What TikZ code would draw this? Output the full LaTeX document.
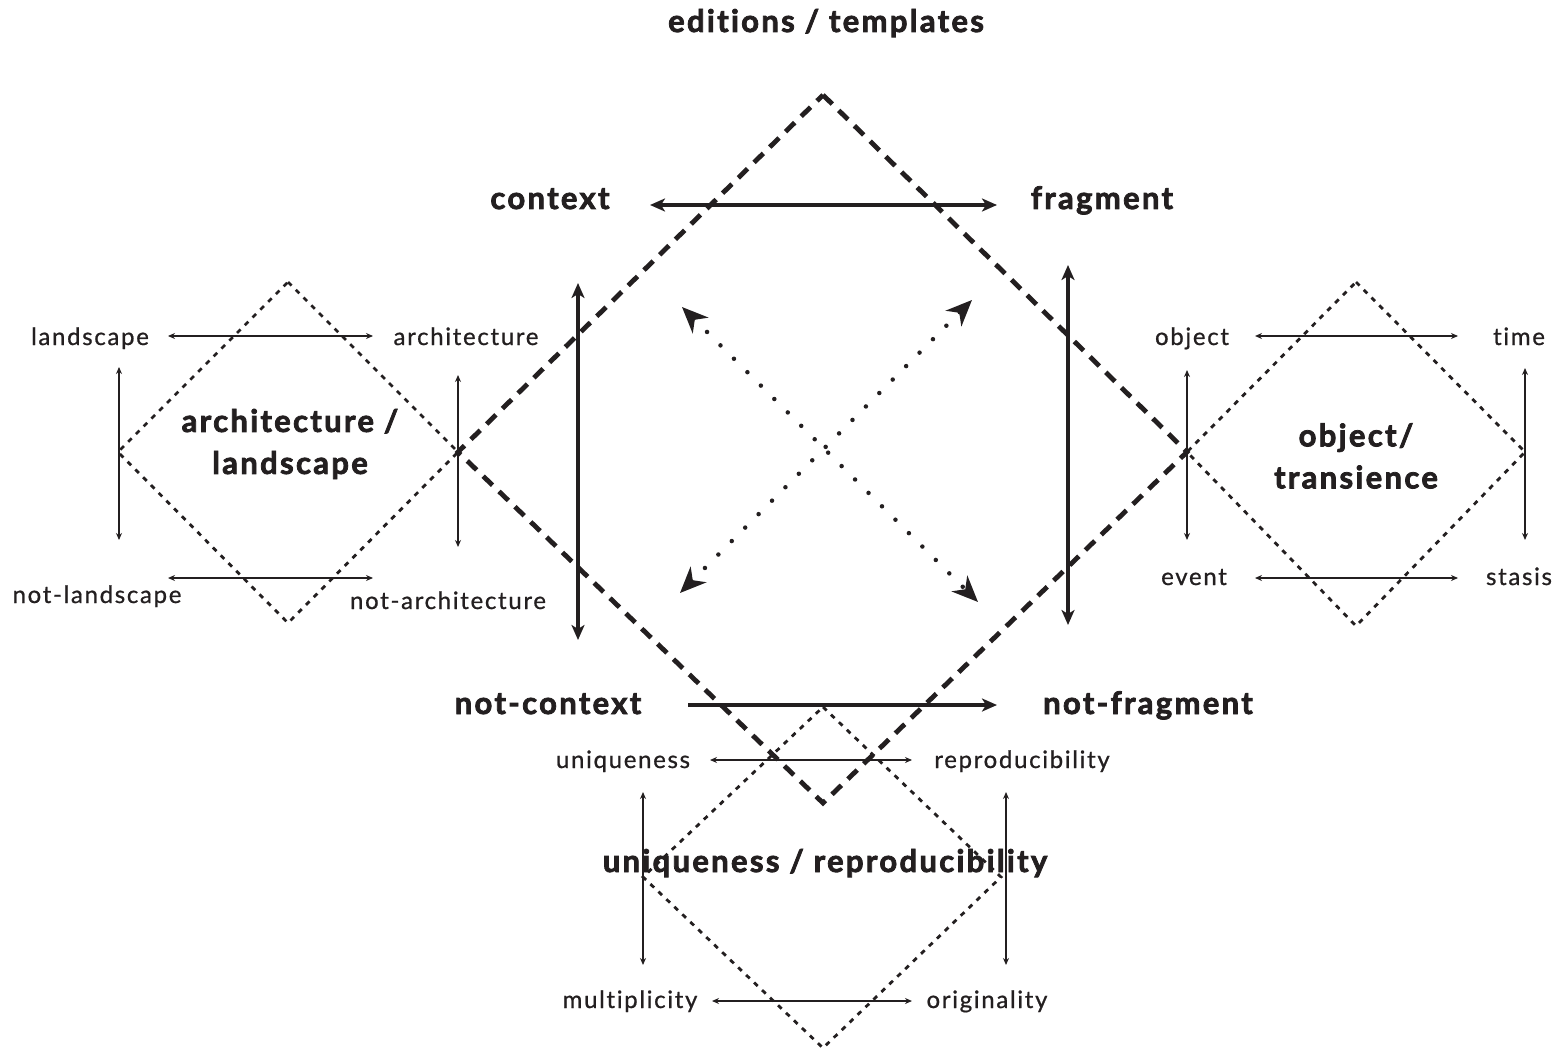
\documentclass[tikz,border=0pt]{standalone}
\usepackage{fontspec}
\setmainfont{Lato}
\newfontfamily\bigf{Lato}[LetterSpace=7.5, Ligatures={NoCommon}, BoldFeatures={FakeBold=2.5}]
\newfontfamily\smallf{Lato}[LetterSpace=7, Ligatures={NoCommon}, FakeBold=0.8]
\usetikzlibrary{arrows.meta}
\definecolor{ink}{RGB}{35,31,32}
\begin{document}
\begin{tikzpicture}[x=1pt,y=-1pt,
  big/.style={font=\bigf\bfseries\fontsize{31}{42}\selectfont, text=ink, inner sep=0pt},
  small/.style={font=\smallf\fontsize{24}{28}\selectfont, text=ink, anchor=base, inner sep=0pt},
  bigdiamond/.style={draw=ink, line width=4.8pt, dash pattern=on 13pt off 9pt},
  smalldiamond/.style={draw=ink, line width=2.8pt, dash pattern=on 5pt off 6pt},
  thickarrow/.style={draw=ink, line width=3.5pt, {Stealth[length=15pt,width=13pt,inset=4pt]}-{Stealth[length=15pt,width=13pt,inset=4pt]}},
  thickonearrow/.style={draw=ink, line width=3.5pt, -{Stealth[length=15pt,width=13pt,inset=4pt]}},
  dotarrow/.style={draw=ink, line width=4.5pt, line cap=round, dash pattern=on 0pt off 19pt,
     {Stealth[length=26pt,width=22pt,inset=8pt]}-{Stealth[length=26pt,width=22pt,inset=8pt]}},
  thinarrow/.style={draw=ink, line width=1.8pt, {Stealth[length=7pt,width=6pt]}-{Stealth[length=7pt,width=6pt]}}
]
\useasboundingbox (0,0) rectangle (1561,1051);

% ---------- diamonds ----------
\draw[bigdiamond] (823,95) -- (1187,452) -- (823,803) -- (458,452) -- cycle;
\draw[smalldiamond] (288,282) -- (458,452) -- (288,623) -- (118,452) -- cycle;
\draw[smalldiamond] (1356,282) -- (1525,452) -- (1356,626) -- (1187,452) -- cycle;
\draw[smalldiamond] (823,707) -- (1001,877) -- (823,1048) -- (643,877) -- cycle;

% ---------- main labels ----------
\node[big, anchor=base] (edit) at (826,32) {editions / templates};
\node[big, anchor=base] (ctx) at (550,209) {context};
\node[big, anchor=base] (frag) at (1102,209) {fragment};
\node[big, anchor=base] (nctx) at (548,714) {not-context};
\node[big, anchor=base] (nfrag) at (1148,714) {not-fragment};
\node[big, align=center] (arch) at (290,444) {architecture /\\landscape};
\node[big, align=center] (obj) at (1356,456) {object/\\transience};
\node[big, anchor=base] (uniq) at (825,872) {uniqueness / reproducibility};

% ---------- small labels ----------
\node[small] (land) at (90,345) {landscape};
\node[small] (archi) at (466,345) {architecture};
\node[small] (nland) at (97,603) {not-landscape};
\node[small] (narch) at (448,609) {not-architecture};
\node[small] (object) at (1192,345) {object};
\node[small] (time) at (1519,345) {time};
\node[small] (event) at (1194,585) {event};
\node[small] (stasis) at (1519,585) {stasis};
\node[small] (un) at (623,768) {uniqueness};
\node[small] (rep) at (1022,768) {reproducibility};
\node[small] (mult) at (630,1008) {multiplicity};
\node[small] (orig) at (987,1008) {originality};

% ---------- arrow end points ----------
\coordinate (cfA) at (650,205);   \coordinate (cfB) at (997,205);
\coordinate (nnA) at (688,705);   \coordinate (nnB) at (997,705);
\coordinate (lvA) at (578,283);   \coordinate (lvB) at (578,640);
\coordinate (rvA) at (1068,265);  \coordinate (rvB) at (1068,625);
\coordinate (d1A) at (682,307);   \coordinate (d1B) at (978,602);
\coordinate (d2A) at (680,593);   \coordinate (d2B) at (972,300);

\coordinate (laA) at (168,336);   \coordinate (laB) at (373,336);
\coordinate (nlA) at (168,578);   \coordinate (nlB) at (373,578);
\coordinate (lvlA) at (119,367);  \coordinate (lvlB) at (119,540);
\coordinate (avA) at (458,375);   \coordinate (avB) at (458,547);

\coordinate (otA) at (1255,336);  \coordinate (otB) at (1458,336);
\coordinate (esA) at (1255,578);  \coordinate (esB) at (1458,578);
\coordinate (ovA) at (1187,370);  \coordinate (ovB) at (1187,540);
\coordinate (tvA) at (1525,368);  \coordinate (tvB) at (1525,540);

\coordinate (urA) at (710,760);   \coordinate (urB) at (912,760);
\coordinate (moA) at (712,1001);  \coordinate (moB) at (912,1001);
\coordinate (uvA) at (643,792);   \coordinate (uvB) at (643,965);
\coordinate (rvvA) at (1006,792); \coordinate (rvvB) at (1006,965);

% ---------- arrows ----------
\draw[thickarrow] (cfA) -- (cfB);
\draw[thickonearrow] (nnA) -- (nnB);
\draw[thickarrow] (lvA) -- (lvB);
\draw[thickarrow] (rvA) -- (rvB);
\draw[dotarrow] (d1A) -- (d1B);
\draw[dotarrow] (d2A) -- (d2B);

\draw[thinarrow] (laA) -- (laB);
\draw[thinarrow] (nlA) -- (nlB);
\draw[thinarrow] (lvlA) -- (lvlB);
\draw[thinarrow] (avA) -- (avB);
\draw[thinarrow] (otA) -- (otB);
\draw[thinarrow] (esA) -- (esB);
\draw[thinarrow] (ovA) -- (ovB);
\draw[thinarrow] (tvA) -- (tvB);
\draw[thinarrow] (urA) -- (urB);
\draw[thinarrow] (moA) -- (moB);
\draw[thinarrow] (uvA) -- (uvB);
\draw[thinarrow] (rvvA) -- (rvvB);
\end{tikzpicture}
\end{document}
